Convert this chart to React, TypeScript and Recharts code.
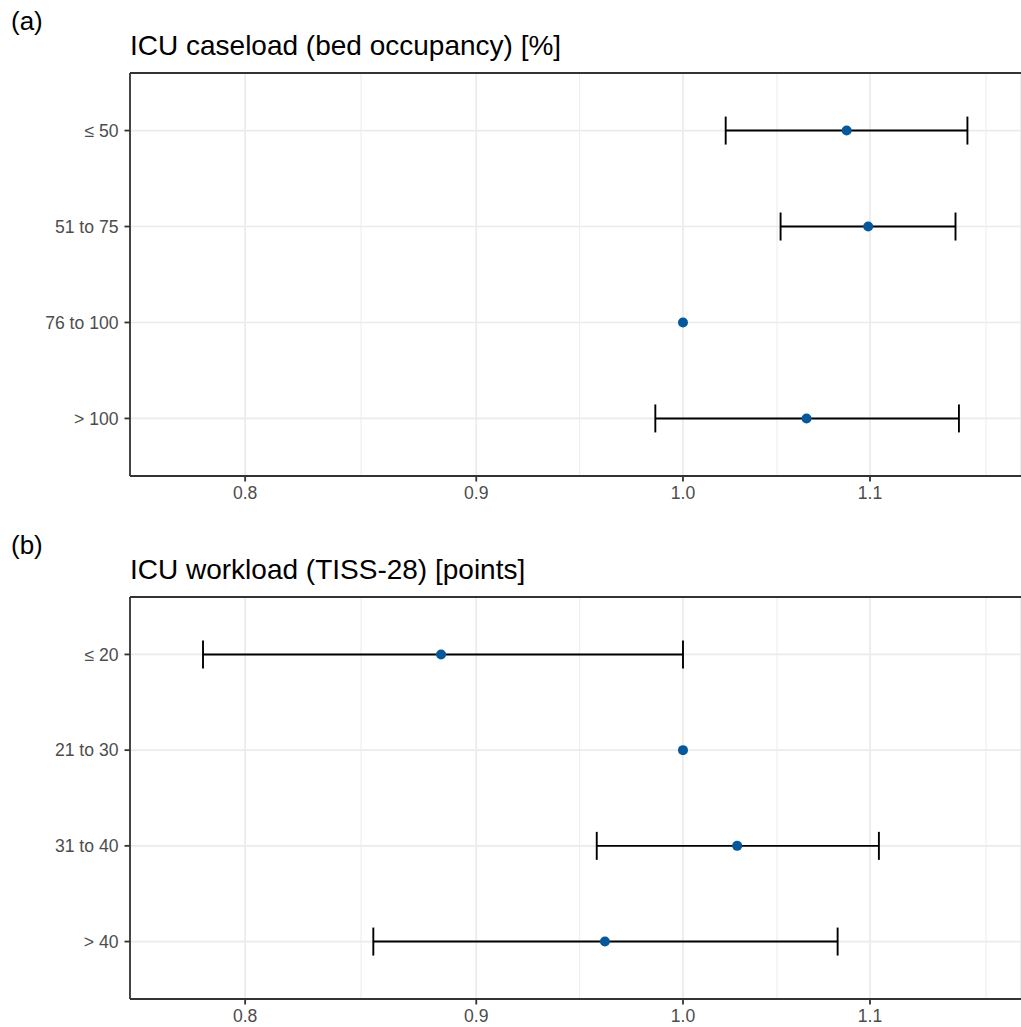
import { ScatterChart, Scatter, XAxis, YAxis, CartesianGrid, ReferenceLine, ErrorBar } from 'recharts'

// panel (a): ICU caseload
const caseloadLabels = ['≤ 50', '51 to 75', '76 to 100', '> 100']
const caseloadOr = [1.087, 1.099, 1.0, 1.065]
const caseloadLo = [1.022, 1.051, null, 0.986]
const caseloadHi = [1.156, 1.149, null, 1.151]

// panel (b): ICU workload
const workloadLabels = ['≤ 20', '21 to 30', '31 to 40', '> 40']
const workloadOr = [0.884, 1.0, 1.028, 0.961]
const workloadLo = [0.783, null, 0.957, 0.854]
const workloadHi = [1.0, null, 1.105, 1.082]

const xTicks = [0.8, 0.9, 1.0, 1.1]
// minor grid
const minorTicks = [0.8487, 0.9487, 1.0491, 1.167]

const FONT = '"Liberation Sans", Arial, Helvetica, sans-serif'
const POINT = '#04589b'
const AXIS = '#333333'

const buildRows = (or: number[], lo: (number | null)[], hi: (number | null)[]) =>
  or.map((v, i) => ({
    x: v,
    y: i,
    err: lo[i] == null || hi[i] == null ? null : [v - (lo[i] as number), (hi[i] as number) - v],
  }))

const Dot = (props: any) => <circle cx={props.cx} cy={props.cy} r={5} fill={POINT} />

const Panel = ({
  labels,
  rows,
  height,
  marginBottom,
  xHeight,
}: {
  labels: string[]
  rows: any[]
  height: number
  marginBottom: number
  xHeight: number
}) => (
  <ScatterChart
    width={1021}
    height={height}
    margin={{ top: 73, right: 0, bottom: marginBottom, left: 0 }}
    style={{ fontFamily: FONT }}
  >
    <CartesianGrid stroke="#ebebeb" strokeWidth={1.7} />
    {minorTicks.map((t) => (
      <ReferenceLine key={t} x={t} stroke="#ededed" strokeWidth={1.1} />
    ))}
    <ReferenceLine y={-0.6} stroke={AXIS} strokeWidth={1.8} />
    <XAxis
      type="number"
      dataKey="x"
      scale="log"
      domain={[0.7544, 1.188]}
      allowDataOverflow
      ticks={xTicks}
      tickFormatter={(v: number) => v.toFixed(1)}
      height={xHeight}
      stroke={AXIS}
      strokeWidth={1.8}
      tickSize={5.5}
      tickMargin={5}
      tick={{ fill: '#4d4d4d', fontSize: 17.6 }}
    />
    <YAxis
      type="number"
      dataKey="y"
      domain={[-0.6, 3.6]}
      reversed
      ticks={[0, 1, 2, 3]}
      tickFormatter={(v: number) => labels[v]}
      width={130}
      stroke={AXIS}
      strokeWidth={1.8}
      tickSize={5.5}
      tickMargin={6}
      tick={{ fill: '#4d4d4d', fontSize: 17.6 }}
    />
    <Scatter data={rows} shape={<Dot />} isAnimationActive={false}>
      <ErrorBar dataKey="err" direction="x" width={14} stroke="#000000" strokeWidth={1.9} />
    </Scatter>
  </ScatterChart>
)

const textStyle = {
  position: 'absolute' as const,
  fontFamily: FONT,
  color: '#000',
  whiteSpace: 'nowrap' as const,
  lineHeight: 1,
}

export default function App() {
  return (
    <div
      style={{
        position: 'absolute',
        left: 0,
        top: 0,
        width: 1021,
        height: 1027,
        overflow: 'hidden',
        background: '#fff',
      }}
    >
      <div style={{ position: 'absolute', left: 0, top: 0 }}>
        <Panel
          labels={caseloadLabels}
          rows={buildRows(caseloadOr, caseloadLo, caseloadHi)}
          height={520}
          marginBottom={4}
          xHeight={40}
        />
      </div>
      <div style={{ position: 'absolute', left: 0, top: 524 }}>
        <Panel
          labels={workloadLabels}
          rows={buildRows(workloadOr, workloadLo, workloadHi)}
          height={503}
          marginBottom={0}
          xHeight={28}
        />
      </div>
      <div style={{ ...textStyle, left: 11, top: 7.5, fontSize: 26 }}>(a)</div>
      <div style={{ ...textStyle, left: 130, top: 32, fontSize: 28 }}>ICU caseload (bed occupancy) [%]</div>
      <div style={{ ...textStyle, left: 11, top: 531.5, fontSize: 26 }}>(b)</div>
      <div style={{ ...textStyle, left: 130, top: 556, fontSize: 28 }}>ICU workload (TISS-28) [points]</div>
    </div>
  )
}
